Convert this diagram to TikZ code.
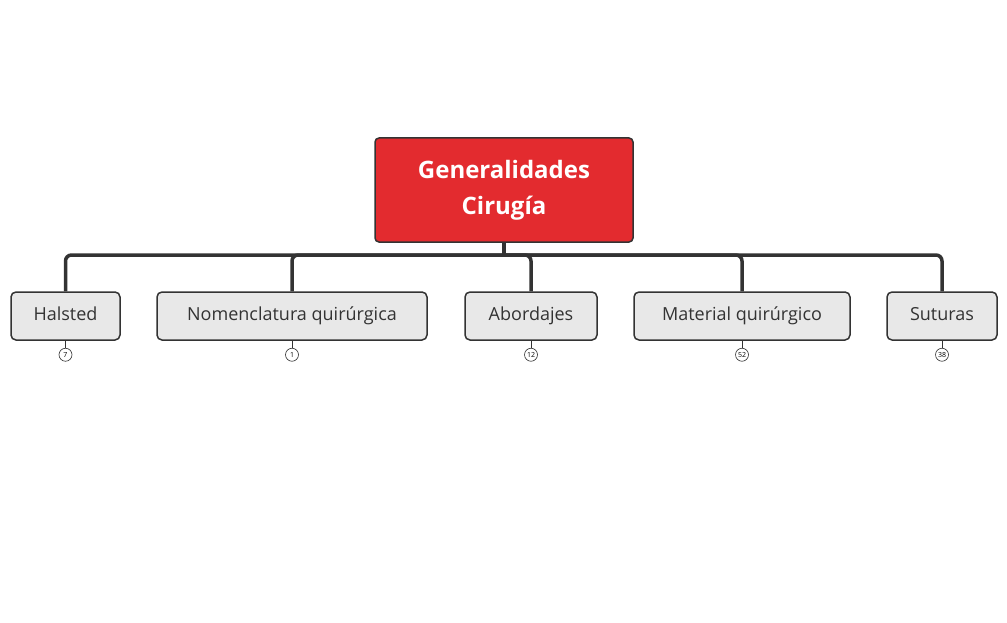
\documentclass[tikz,border=0pt]{standalone}
\usepackage{fontspec}
\setmainfont{Open Sans}
\definecolor{rootred}{HTML}{E32B2F}
\definecolor{edge}{HTML}{333333}
\definecolor{childfill}{HTML}{E8E8E8}
\begin{document}
\begin{tikzpicture}[x=1pt,y=-1pt,
  rootbox/.style={draw=edge,line width=1.5pt,fill=rootred,rounded corners=4pt,minimum width=258pt,minimum height=104pt,text=white,font=\fontsize{24}{36}\selectfont\bfseries,align=center},
  childbox/.style={draw=edge,line width=1.5pt,fill=childfill,rounded corners=5pt,minimum height=48pt,text height=13pt,text depth=4pt,text=edge,font=\fontsize{18}{22}\selectfont},
  cnt/.style={draw=edge,circle,line width=0.6pt,fill=white,minimum size=13pt,inner sep=0pt,font=\fontsize{7}{8}\selectfont},
  conn/.style={draw=edge,line width=3.5pt,rounded corners=6pt}]
\useasboundingbox (0,0) rectangle (1007,623);
\node[rootbox] (r) at (504,190) {Generalidades\\Cirugía};
\node[childbox,minimum width=109pt] (c1) at (65.5,316) {Halsted};
\node[childbox,minimum width=270pt] (c2) at (292,316) {Nomenclatura quirúrgica};
\node[childbox,minimum width=132pt] (c3) at (531,316) {Abordajes};
\node[childbox,minimum width=216pt] (c4) at (742,316) {Material quirúrgico};
\node[childbox,minimum width=110pt] (c5) at (942,316) {Suturas};
\coordinate (j) at (504,255);
\draw[conn] (r.south) -- (j);
\foreach \c in {c1,c2,c3,c4,c5}{\draw[conn] (r.south |- j) -| (\c.north);}
\foreach \c/\n in {c1/7,c2/1,c3/12,c4/52,c5/38}{
  \node[cnt] (n\c) at ([yshift=-14pt]\c.south) {\n};
  \draw[edge,line width=1pt] (\c.south) -- (n\c.north);}
\end{tikzpicture}
\end{document}
